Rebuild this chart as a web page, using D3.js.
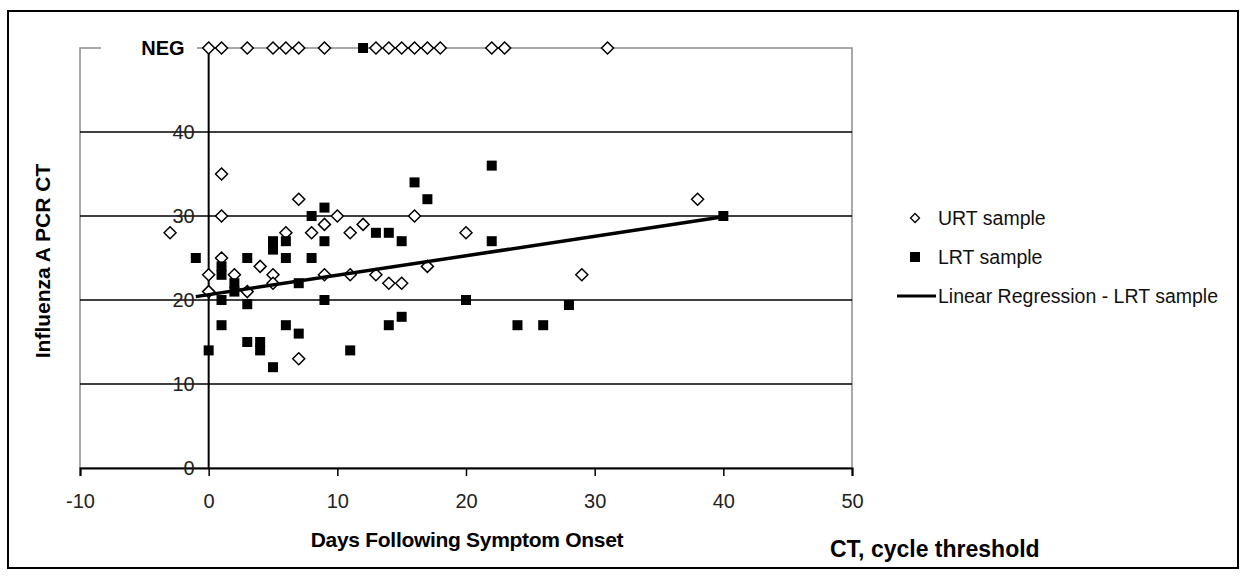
<!DOCTYPE html>
<html>
<head>
<meta charset="utf-8">
<script src="https://cdn.jsdelivr.net/npm/d3@7"></script>
<style>
    body { margin: 0; background: #fff; }
    svg { display: block; font-family: "Liberation Sans", Arial, sans-serif; }
</style>
</head>
<body>
<div id="chart"></div>
<script>
// days after onset, CT value
const urtPoints = [
    [-3, 28], [0, 23], [0, 21], [1, 35], [1, 30], [1, 25], [2, 23], [3, 21],
    [4, 24], [5, 23], [5, 22], [6, 28], [7, 32], [7, 13], [8, 28], [9, 29],
    [9, 23], [10, 30], [11, 28], [11, 23], [12, 29], [13, 23], [14, 22],
    [15, 22], [16, 30], [17, 24], [20, 28], [29, 23], [38, 32]
];
const lrtPoints = [
    [-1, 25], [0, 14], [1, 24], [1, 23], [1, 20], [1, 17], [2, 22], [2, 21],
    [3, 25], [3, 19.5], [3, 15], [4, 15], [4, 14], [5, 27], [5, 26], [5, 12],
    [6, 27], [6, 25], [6, 17], [7, 22], [7, 16], [8, 30], [8, 25], [9, 31],
    [9, 27], [9, 20], [11, 14], [13, 28], [14, 28], [14, 17], [15, 27],
    [15, 18], [16, 34], [17, 32], [20, 20], [22, 36], [22, 27], [24, 17],
    [26, 17], [28, 19.4], [40, 30]
];
// negative samples sit on the NEG row
const urtNegDays = [0, 1, 3, 5, 6, 7, 9, 13, 14, 15, 16, 17, 18, 22, 23, 31];
const lrtNegDays = [12];
const NEG = 50;

const regressionLine = [[-1, 20.4], [40, 29.9]];

const xTicks = [-10, 0, 10, 20, 30, 40, 50];
const yTicks = [0, 10, 20, 30, 40];
const gridValues = [10, 20, 30, 40];
const legendLabels = ['URT sample', 'LRT sample', 'Linear Regression - LRT sample'];

class CtChart {

    constructor(opts) {
        this.element = opts.element;
        this.width = 1240;
        this.height = 578;
        this.plotBox = { left: 80, right: 852, top: 48, bottom: 468 };

        this.x = d3.scaleLinear().domain([-10, 50]).range([this.plotBox.left, this.plotBox.right]);
        this.y = d3.scaleLinear().domain([0, NEG]).range([this.plotBox.bottom, this.plotBox.top]);

        this.draw();
    }

    draw() {
        const svg = d3.select(this.element).append('svg')
            .attr('width', this.width)
            .attr('height', this.height);
        this.svg = svg;

        svg.append('rect')
            .attr('x', 8).attr('y', 11)
            .attr('width', 1230).attr('height', 557)
            .attr('fill', 'none')
            .attr('stroke', '#000')
            .attr('stroke-width', 2);

        this.addFrame();
        this.addAxes();
        this.addPoints();
        this.addLegend();
        this.addTitles();
    }

    addFrame() {
        const b = this.plotBox;
        this.svg.append('rect')
            .attr('x', b.left).attr('y', b.top)
            .attr('width', b.right - b.left).attr('height', b.bottom - b.top)
            .attr('fill', 'none')
            .attr('stroke', '#8c8c8c')
            .attr('stroke-width', 1.5);

        this.svg.selectAll('.grid')
            .data(gridValues)
            .enter()
            .append('line')
            .attr('class', 'grid')
            .attr('x1', b.left).attr('x2', b.right)
            .attr('y1', d => this.y(d)).attr('y2', d => this.y(d))
            .attr('stroke', '#000')
            .attr('stroke-width', 1.6);
    }

    addAxes() {
        const b = this.plotBox;

        // x axis crosses at CT = 0
        const xAxis = d3.axisBottom(this.x)
            .tickValues(xTicks)
            .tickFormat(d => String(d))
            .tickSize(8)
            .tickPadding(18);

        const gx = this.svg.append('g')
            .attr('transform', `translate(0,${this.y(0)})`)
            .call(xAxis);
        gx.select('.domain').attr('stroke', '#000').attr('stroke-width', 2);
        gx.selectAll('.tick line').attr('stroke', '#000').attr('stroke-width', 1.5);
        gx.selectAll('.tick text')
            .attr('font-size', 20)
            .attr('font-family', '"Liberation Sans", Arial, sans-serif')
            .attr('fill', '#222');

        // y axis sits at day 0
        this.svg.append('line')
            .attr('x1', this.x(0)).attr('x2', this.x(0))
            .attr('y1', b.top).attr('y2', b.bottom)
            .attr('stroke', '#000')
            .attr('stroke-width', 2);

        this.svg.selectAll('.ytick')
            .data(yTicks)
            .enter()
            .append('text')
            .attr('class', 'ytick')
            .attr('x', this.x(0) - 14)
            .attr('y', d => this.y(d) + 7)
            .attr('text-anchor', 'end')
            .attr('font-size', 20)
            .attr('fill', '#222')
            .text(d => d);

        // NEG label covers the top border
        this.svg.append('rect')
            .attr('x', 101).attr('y', b.top - 10)
            .attr('width', 96).attr('height', 20)
            .attr('fill', '#fff');
        this.svg.append('text')
            .attr('x', 163)
            .attr('y', this.y(NEG) + 7)
            .attr('text-anchor', 'middle')
            .attr('font-size', 20)
            .attr('font-weight', 'bold')
            .text('NEG');
    }

    diamond(r) {
        return `M0,${-r}L${r},0L0,${r}L${-r},0Z`;
    }

    addPoints() {
        const urt = urtPoints.concat(urtNegDays.map(d => [d, NEG]));
        const lrt = lrtPoints.concat(lrtNegDays.map(d => [d, NEG]));

        this.svg.selectAll('.urt')
            .data(urt)
            .enter()
            .append('path')
            .attr('class', 'urt')
            .attr('d', this.diamond(6))
            .attr('transform', d => `translate(${this.x(d[0])},${this.y(d[1])})`)
            .attr('fill', '#fff')
            .attr('stroke', '#000')
            .attr('stroke-width', 1.5);

        this.svg.selectAll('.lrt')
            .data(lrt)
            .enter()
            .append('rect')
            .attr('class', 'lrt')
            .attr('x', d => this.x(d[0]) - 5)
            .attr('y', d => this.y(d[1]) - 5)
            .attr('width', 10).attr('height', 10)
            .attr('fill', '#000');

        const line = d3.line()
            .x(d => this.x(d[0]))
            .y(d => this.y(d[1]));

        this.svg.append('path')
            .datum(regressionLine)
            .attr('d', line)
            .attr('fill', 'none')
            .attr('stroke', '#000')
            .attr('stroke-width', 3.5);
    }

    addLegend() {
        const rows = [218, 257, 296];
        const g = this.svg.append('g');

        g.append('path')
            .attr('d', this.diamond(4.5))
            .attr('transform', `translate(915,${rows[0]})`)
            .attr('fill', '#fff')
            .attr('stroke', '#000')
            .attr('stroke-width', 1.3);
        g.append('rect')
            .attr('x', 910).attr('y', rows[1] - 5)
            .attr('width', 10).attr('height', 10)
            .attr('fill', '#000');
        g.append('line')
            .attr('x1', 897).attr('x2', 936)
            .attr('y1', rows[2]).attr('y2', rows[2])
            .attr('stroke', '#000')
            .attr('stroke-width', 3);

        g.selectAll('.legend-label')
            .data(legendLabels)
            .enter()
            .append('text')
            .attr('class', 'legend-label')
            .attr('x', 938)
            .attr('y', (d, i) => rows[i] + 7)
            .attr('font-size', 19.5)
            .attr('fill', '#111')
            .text(d => d);
    }

    addTitles() {
        this.svg.append('text')
            .attr('transform', 'translate(50,261) rotate(-90)')
            .attr('text-anchor', 'middle')
            .attr('font-size', 21)
            .attr('font-weight', 'bold')
            .text('Influenza A PCR CT');

        this.svg.append('text')
            .attr('x', 467).attr('y', 547)
            .attr('text-anchor', 'middle')
            .attr('font-size', 21)
            .attr('font-weight', 'bold')
            .attr('letter-spacing', -0.3)
            .text('Days Following Symptom Onset');

        this.svg.append('text')
            .attr('x', 830).attr('y', 557)
            .attr('font-size', 23)
            .attr('font-weight', 'bold')
            .text('CT, cycle threshold');
    }
}

new CtChart({ element: document.getElementById('chart') });
</script>
</body>
</html>
